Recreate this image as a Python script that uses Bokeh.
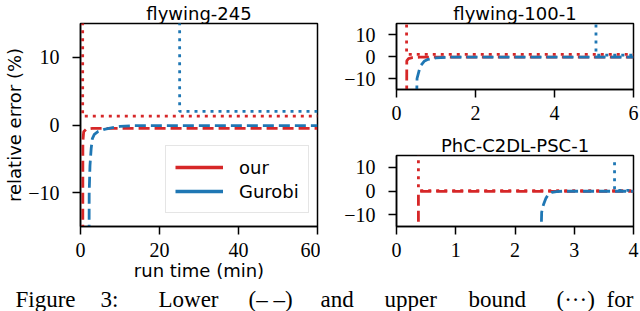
from bokeh.plotting import figure
from bokeh.layouts import row, column
from bokeh.models import Range1d, Label, Legend, LegendItem, FixedTicker
from bokeh.embed import file_html
from bokeh.resources import INLINE

RED = "#d62728"
BLUE = "#1f77b4"
NAN = float("nan")

# ---------------- data (relative error in %, time in minutes) ----------------
# flywing-245
fw245_title = "flywing-245"
fw245_xticks = [0, 20, 40, 60]
fw245_our_lb_t = [0.55, 0.6, 0.8, 1.5, 3.0, 60]
fw245_our_lb_v = [-40, -2.5, -1.0, -0.6, -0.5, -0.5]
fw245_our_ub_t = [0.55, 0.55, 60]
fw245_our_ub_v = [40, 1.3, 1.3]
fw245_gur_lb_t = [2.1, 2.2, 2.4, 2.7, 3.0, 3.5, 4.5, 6.0, 7.5, 10, 13, 60]
fw245_gur_lb_v = [-40, -10, -6, -3.5, -2.0, -1.4, -0.95, -0.65, -0.45, -0.2, -0.1, -0.1]
fw245_gur_ub_t = [25.1, 25.1, 60]
fw245_gur_ub_v = [40, 2.0, 2.0]

# flywing-100-1
fw100_title = "flywing-100-1"
fw100_xticks = [0, 2, 4, 6]
fw100_our_lb_t = [0.255, 0.26, 0.3, 0.4, 0.6, 6]
fw100_our_lb_v = [-40, -2.0, -1.0, -0.5, -0.3, -0.3]
fw100_our_ub_t = [0.255, 0.255, 6]
fw100_our_ub_v = [40, 1.0, 1.0]
fw100_gur_lb_t = [0.485, 0.52, 0.6, 0.7, 0.8, 1.0, 1.3, 6]
fw100_gur_lb_v = [-40, -10, -4.5, -2.2, -1.3, -0.6, -0.3, -0.3]
fw100_gur_ub_t = [5.05, 5.05, 6]
fw100_gur_ub_v = [40, 0.6, 0.6]

# PhC-C2DL-PSC-1
phc_title = "PhC-C2DL-PSC-1"
phc_xticks = [0, 1, 2, 3, 4]
phc_our_lb_t = [0.37, 0.37, 4]
phc_our_lb_v = [-40, -0.2, -0.2]
phc_our_ub_t = [0.37, 0.37, 4]
phc_our_ub_v = [40, 0.2, 0.2]
phc_gur_lb_t = [2.42, 2.45, 2.48, 2.52, 2.56, 2.62, 2.7, 2.8, 4]
phc_gur_lb_v = [-40, -9, -5.8, -3.2, -1.5, -0.6, -0.25, -0.1, -0.1]
phc_gur_ub_t = [3.68, 3.68, 4]
phc_gur_ub_v = [12.2, 0.3, 0.3]

y_ticks = [-10, 0, 10]
y_tick_labels = {-10: "\u221210", 0: "0", 10: "10"}

legend_labels = ["our", "Gurobi"]
caption_words = ["Figure", "3:", "Lower", "(\u2013 \u2013)", "and", "upper", "bound",
                 "(\u00b7\u00b7\u00b7)", "for"]

# layout of the (justified) caption line, in pixels
cap_word_x = [15, 100, 158, 248, 320, 384, 468, 556, 606]

DASH = "11 5"
DOT = "3 5"
LW = 2.8


def make_fig(w, h, xmax, xticks, title, bl, br, bt, bb, xlabel=None, ylabel=None):
    p = figure(width=w, height=h, x_range=Range1d(0, xmax), y_range=Range1d(-15, 15),
               output_backend="svg", toolbar_location=None, title=title, title_location="above",
               min_border_left=bl, min_border_right=br, min_border_top=bt, min_border_bottom=bb)
    p.title.align = "center"
    p.title.text_font = "DejaVu Sans"
    p.title.text_font_size = "18px"
    p.title.text_font_style = "normal"
    p.title.text_color = "black"
    p.title.standoff = 0
    p.xgrid.visible = False
    p.ygrid.visible = False
    p.outline_line_color = "black"
    p.outline_line_width = 1.5
    p.outline_line_alpha = 1.0
    p.background_fill_color = "white"
    p.border_fill_color = "white"
    for ax in (p.xaxis[0], p.yaxis[0]):
        ax.axis_line_color = "black"
        ax.axis_line_width = 1.5
        ax.major_tick_line_color = "black"
        ax.major_tick_line_width = 1.5
        ax.major_tick_out = 8
        ax.major_tick_in = 0
        ax.minor_tick_line_color = None
        ax.major_label_text_font = "Liberation Serif"
        ax.major_label_text_font_size = "20px"
        ax.major_label_text_color = "black"
        ax.axis_label_text_font = "DejaVu Sans"
        ax.axis_label_text_font_size = "18px"
        ax.axis_label_text_font_style = "normal"
        ax.axis_label_text_color = "black"
    p.xaxis.ticker = FixedTicker(ticks=xticks)
    p.yaxis.ticker = FixedTicker(ticks=y_ticks)
    p.yaxis.major_label_overrides = y_tick_labels
    p.xaxis.major_label_standoff = 8
    p.yaxis.major_label_standoff = 13
    if xlabel:
        p.xaxis.axis_label = xlabel
        p.xaxis.axis_label_standoff = 0
    if ylabel:
        p.yaxis.axis_label = ylabel
        p.yaxis.axis_label_standoff = 0
    return p


def draw(p, olt, olv, out, ouv, glt, glv, gut, guv):
    p.line(olt, olv, color=RED, line_width=LW, line_dash=DASH)
    p.line(out, ouv, color=RED, line_width=LW, line_dash=DOT)
    p.line(glt, glv, color=BLUE, line_width=LW, line_dash=DASH)
    p.line(gut, guv, color=BLUE, line_width=LW, line_dash=DOT)


ROW_H = 285

left = make_fig(320, ROW_H, 60, fw245_xticks, fw245_title, 80, 3, 21, ROW_H - 226,
                xlabel="run time (min)", ylabel="relative error (%)")
draw(left, fw245_our_lb_t, fw245_our_lb_v, fw245_our_ub_t, fw245_our_ub_v,
     fw245_gur_lb_t, fw245_gur_lb_v, fw245_gur_ub_t, fw245_gur_ub_v)
r_our = left.line([NAN], [NAN], color=RED, line_width=3.5)
r_gur = left.line([NAN], [NAN], color=BLUE, line_width=3.5)
leg = Legend(items=[LegendItem(label=legend_labels[0], renderers=[r_our]),
                    LegendItem(label=legend_labels[1], renderers=[r_gur])],
             location=(85, 13), orientation="vertical")
leg.label_text_font = "DejaVu Sans"
leg.label_text_font_size = "18px"
leg.label_text_color = "black"
leg.glyph_width = 48
leg.glyph_height = 24
leg.label_height = 24
leg.label_standoff = 16
leg.padding = 9
leg.spacing = 0
leg.margin = 0
leg.border_line_color = "#cccccc"
leg.border_line_width = 1.5
leg.background_fill_alpha = 0.8
left.add_layout(leg, "center")

top_right = make_fig(320, 132, 6, fw100_xticks, fw100_title, 76, 7, 19, 43)
draw(top_right, fw100_our_lb_t, fw100_our_lb_v, fw100_our_ub_t, fw100_our_ub_v,
     fw100_gur_lb_t, fw100_gur_lb_v, fw100_gur_ub_t, fw100_gur_ub_v)

bot_right = make_fig(320, ROW_H - 132, 4, phc_xticks, phc_title, 76, 7, 23, ROW_H - 226)
draw(bot_right, phc_our_lb_t, phc_our_lb_v, phc_our_ub_t, phc_our_ub_v,
     phc_gur_lb_t, phc_gur_lb_v, phc_gur_ub_t, phc_gur_ub_v)

CAP_H = 311 - ROW_H
cap = figure(width=640, height=CAP_H, x_range=Range1d(0, 640), y_range=Range1d(0, CAP_H),
             output_backend="svg", toolbar_location=None, title_location=None,
             min_border_left=0, min_border_right=0, min_border_top=0, min_border_bottom=0)
cap.axis.visible = False
cap.xgrid.visible = False
cap.ygrid.visible = False
cap.outline_line_color = None
for word, wx in zip(caption_words, cap_word_x):
    cap.add_layout(Label(x=wx, y=0, text=word, text_align="left",
                         text_baseline="bottom", text_font="Liberation Serif",
                         text_font_size="23px", text_color="black"))

layout = column(row(left, column(top_right, bot_right)), cap)
open("out.html", "w").write(file_html(layout, INLINE))
